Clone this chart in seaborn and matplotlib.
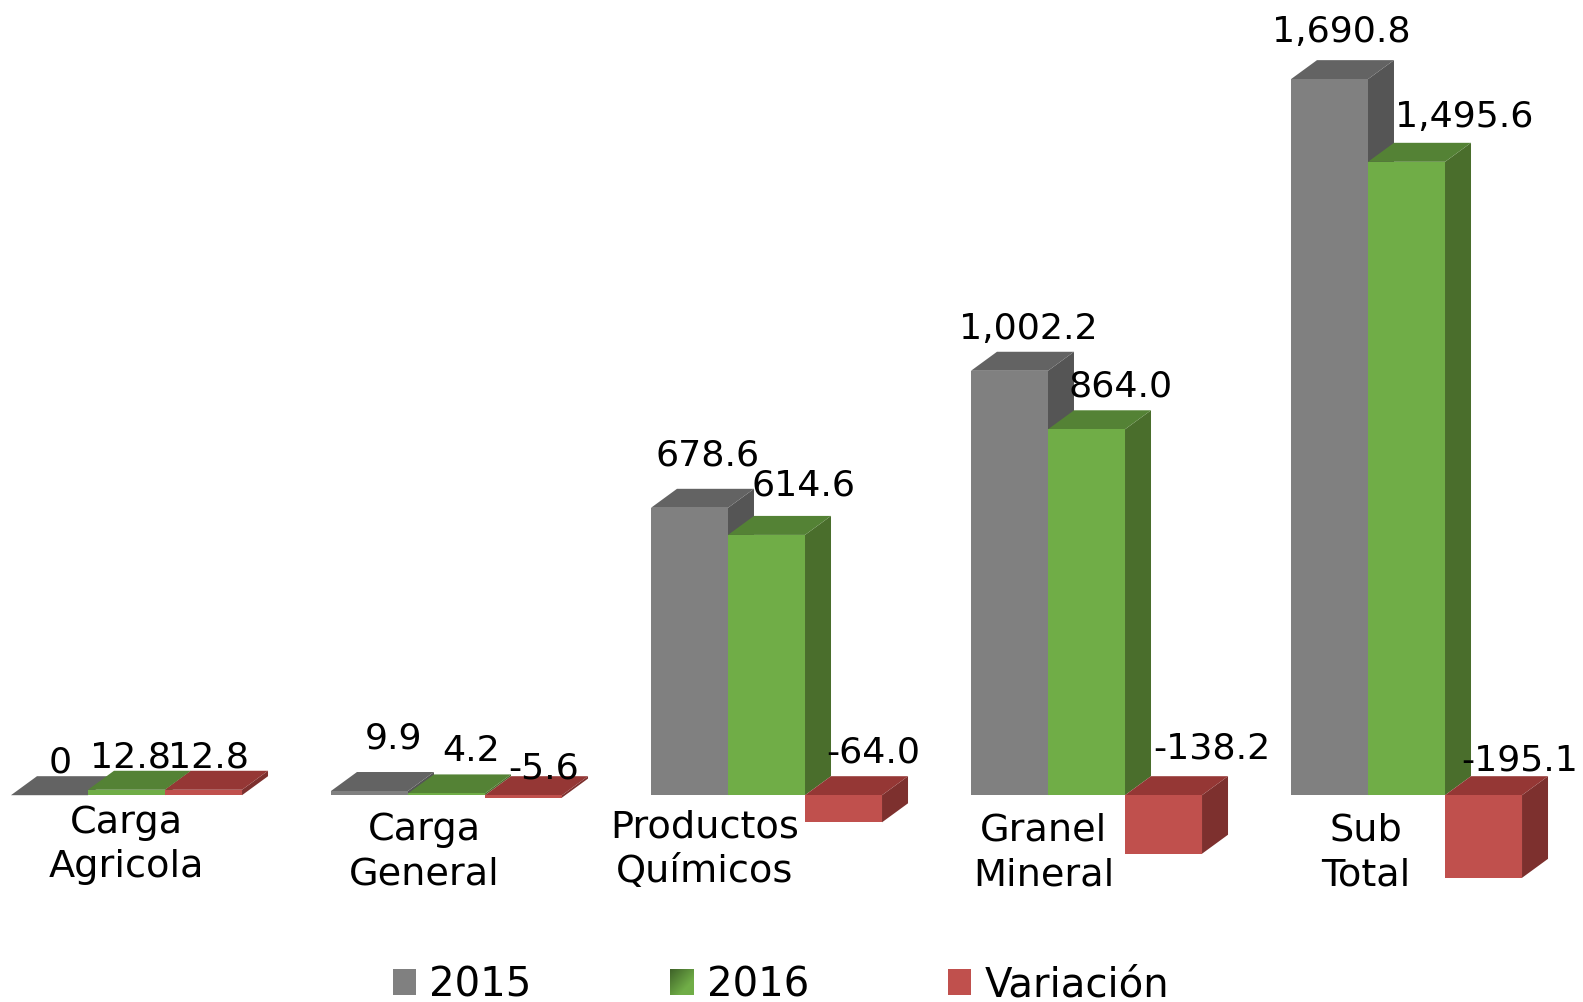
import numpy as np
import pandas as pd
import matplotlib
matplotlib.use("Agg")
import matplotlib.pyplot as plt
from matplotlib.patches import Patch, Polygon
from matplotlib.transforms import Affine2D
import seaborn as sns

# Data
categories = ["Carga\nAgricola", "Carga\nGeneral", "Productos\nQuímicos", "Granel\nMineral", "Sub\nTotal"]
values_2015 = [0, 9.9, 678.6, 1002.2, 1690.8]
values_2016 = [12.8, 4.2, 614.6, 864.0, 1495.6]
values_var = [12.8, -5.6, -64.0, -138.2, -195.1]
series_names = ["2015", "2016", "Variación"]

# front, top, side colours of each series
front_colors = ["#808080", "#70AD47", "#C0504D"]
top_colors = ["#636363", "#548235", "#953735"]
side_colors = ["#555555", "#4A6E2C", "#7D302E"]

# Label centres in pixels of the 1583x1003 image
value_label_px = [
    [(60, 763), (131, 758), (209, 758)],
    [(394, 739), (471, 751), (544, 769)],
    [(708, 456), (804, 486), (873, 753)],
    [(1028, 329), (1121, 387), (1212, 749)],
    [(1341, 32), (1464, 117), (1520, 761)],
]
category_label_px = [(126, 845), (424, 852), (705, 850), (1044, 853), (1366, 853)]

W, H = 1583, 1003
DEPTH_X, DEPTH_Y = 26, 19

df = pd.DataFrame({"Category": categories, "2015": values_2015, "2016": values_2016, "Variación": values_var})
melted = df.melt(id_vars="Category", var_name="Serie", value_name="Value")

sns.set_style("white")
plt.rcParams["font.family"] = ["DejaVu Sans"]

fig = plt.figure(figsize=(W / 100, H / 100), dpi=100)
ax = fig.add_axes([0, 0, 1, 1])
sns.barplot(
    data=melted, x="Category", y="Value", hue="Serie", hue_order=series_names,
    palette=front_colors, width=0.722, gap=0, legend=False, saturation=1, errorbar=None, ax=ax,
)

# Scales: 320 px per group, 0.4235 px per unit, baseline at y=796.2
px_x = 320.0
px_y = 0.4235
ax.set_xlim(-126.5 / px_x, (W - 126.5) / px_x)
ax.set_ylim(-(H - 796.2) / px_y, 796.2 / px_y)
ax.axis("off")

# Extrude every bar by hand to get the fake 3D look
dx = DEPTH_X / px_x
dy = DEPTH_Y / px_y
for s, container in enumerate(ax.containers):
    for bar in container.patches:
        x0 = bar.get_x()
        x1 = x0 + bar.get_width()
        y0 = min(bar.get_y(), bar.get_y() + bar.get_height())
        y1 = max(bar.get_y(), bar.get_y() + bar.get_height())
        z = 2 + s * 3
        bar.set_zorder(z + 2)
        bar.set_linewidth(0)
        ax.add_patch(Polygon([(x1, y0), (x1 + dx, y0 + dy), (x1 + dx, y1 + dy), (x1, y1)],
                             facecolor=side_colors[s], edgecolor="none", zorder=z))
        ax.add_patch(Polygon([(x0, y1), (x1, y1), (x1 + dx, y1 + dy), (x0 + dx, y1 + dy)],
                             facecolor=top_colors[s], edgecolor="none", zorder=z + 1))

# Text placed in image pixels
pixels = Affine2D().scale(1 / W, -1 / H).translate(0, 1) + fig.transFigure

for i in range(len(categories)):
    row = [values_2015[i], values_2016[i], values_var[i]]
    for s, v in enumerate(row):
        label = f"{v:,.1f}" if v != 0 else "0"
        px, py = value_label_px[i][s]
        ax.text(px, py, label, transform=pixels, ha="center", va="center",
                fontsize=26.2, color="black", zorder=20, clip_on=False)
    px, py = category_label_px[i]
    ax.text(px, py, categories[i], transform=pixels, ha="center", va="center",
            fontsize=27.5, color="black", linespacing=1.3, zorder=20)

# Legend
handles = [Patch(facecolor=c, edgecolor="none", label=n) for c, n in zip(front_colors, series_names)]
fig.legend(
    handles=handles, loc="lower left", bbox_to_anchor=(393 / W, -3 / H), bbox_transform=fig.transFigure,
    ncol=3, frameon=False, fontsize=29, labelcolor="black", borderpad=0, borderaxespad=0,
    handlelength=0.58, handleheight=0.63, handletextpad=0.32, columnspacing=3.45,
)

# The 2016 swatch has a diagonal gradient, dark corner on top left
swatch = fig.add_axes([670 / W, 1 - 996 / H, 24 / W, 26 / H], zorder=10)
u, v = np.meshgrid(np.linspace(0, 1, 24), np.linspace(0, 1, 26))
t = np.clip((u + v) / 1.4, 0, 1)[..., None]
dark = np.array(matplotlib.colors.to_rgb("#3F6329"))
light = np.array(matplotlib.colors.to_rgb("#70AD47"))
swatch.imshow(dark * (1 - t) + light * t, aspect="auto")
swatch.axis("off")

fig.savefig("out.png", dpi=100)
